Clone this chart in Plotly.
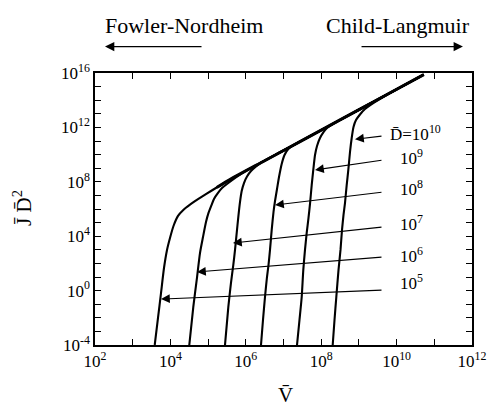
import plotly.graph_objects as go

# ---- data: log10(V) and log10(J D^2) ----
c1_logV = [3.584, 3.671, 3.751, 3.830, 3.910, 3.989, 4.082, 4.202, 4.342, 4.520, 4.732, 4.963, 5.228,
           5.6, 6.5, 7.5, 8.5, 9.5, 10.72]
c1_logY = [-4.00, -2.01, -0.18, 1.66, 2.99, 3.87, 4.75, 5.49, 5.93, 6.32, 6.72, 7.13, 7.58,
           8.2, 9.55, 11.05, 12.55, 14.05, 15.88]

c2_logV = [4.501, 4.607, 4.698, 4.785, 4.865, 4.944, 5.011, 5.090, 5.156, 5.263, 5.369, 5.501,
           6.0, 7.0, 8.0, 9.0, 10.0, 10.72]
c2_logY = [-4.00, -1.21, 0.78, 2.76, 3.94, 5.04, 5.71, 6.29, 6.74, 7.18, 7.54, 7.84,
           8.8, 10.3, 11.8, 13.3, 14.8, 15.88]

c3_logV = [5.448, 5.536, 5.607, 5.668, 5.714, 5.759, 5.801, 5.846, 5.891, 5.952, 6.032, 6.138, 6.271, 6.430,
           7.0, 8.0, 9.0, 10.0, 10.72]
c3_logY = [-4.00, -1.21, 0.56, 1.88, 2.99, 4.24, 5.41, 6.51, 7.32, 7.91, 8.39, 8.79, 9.13, 9.46,
           10.3, 11.8, 13.3, 14.8, 15.88]

c4_logV = [6.403, 6.456, 6.509, 6.562, 6.602, 6.642, 6.687, 6.735, 6.775, 6.828, 6.881, 6.952, 7.027, 7.127, 7.252,
           8.0, 9.0, 10.0, 10.72]
c4_logY = [-4.00, -2.16, -0.47, 1.00, 1.88, 2.99, 4.46, 5.78, 6.59, 7.47, 8.35, 9.31, 9.97, 10.41, 10.67,
           11.8, 13.3, 14.8, 15.88]

c5_logV = [7.358, 7.424, 7.483, 7.525, 7.570, 7.615, 7.663, 7.703, 7.748, 7.790, 7.836, 7.889, 7.968, 8.061, 8.154, 8.286,
           9.0, 10.0, 10.72]
c5_logY = [-4.00, -2.16, -0.47, 1.51, 2.99, 4.24, 5.34, 6.37, 7.76, 8.87, 9.97, 10.63, 11.22, 11.66, 11.96, 12.21,
           13.3, 14.8, 15.88]

c6_logV = [8.305, 8.353, 8.401, 8.459, 8.512, 8.552, 8.592, 8.631, 8.676, 8.719, 8.764, 8.809, 8.857, 8.923, 9.029,
           9.162, 9.321, 10.0, 10.72]
c6_logY = [-4.00, -2.16, -0.47, 1.51, 2.99, 4.46, 5.56, 6.44, 7.76, 8.87, 10.19, 11.22, 12.03, 12.54, 12.95,
           13.35, 13.68, 14.8, 15.88]

env_logV = [5.228, 5.6, 6.5, 7.5, 8.5, 9.5, 10.72]
env_logY = [7.58, 8.2, 9.55, 11.05, 12.55, 14.05, 15.88]

curves = [(c1_logV, c1_logY), (c2_logV, c2_logY), (c3_logV, c3_logY),
          (c4_logV, c4_logY), (c5_logV, c5_logY), (c6_logV, c6_logY)]

# labels: D value text, arrow tip (log V, log Y), arrow tail, label position
d_labels = ["D\u0304=10<sup>10</sup>", "10<sup>9</sup>", "10<sup>8</sup>",
            "10<sup>7</sup>", "10<sup>6</sup>", "10<sup>5</sup>"]
tip_logV = [8.897, 7.836, 6.775, 5.660, 4.706, 3.751]
tip_logY = [11.13, 8.87, 6.29, 3.50, 1.37, -0.62]
tail_logV = [9.639, 9.639, 9.639, 9.639, 9.639, 9.639]
tail_logY = [11.37, 9.60, 7.25, 4.68, 2.47, 0.04]
lab_logV = [9.77, 10.04, 10.04, 10.04, 10.04, 10.04]
lab_logY = [11.62, 9.80, 7.55, 5.00, 2.65, 0.62]

# regime labels above the plot: x in log V, y in paper fraction
regime_text = ["Fowler-Nordheim", "Child-Langmuir"]
regime_text_logV = [4.36, 10.05]
regime_text_yp = 1.176
regime_tip_logV = [2.265, 11.76]
regime_tail_logV = [4.865, 9.03]
regime_arrow_yp = 1.097

x_tickexp = list(range(2, 13))
y_tickexp = list(range(-4, 17))

SERIF = "Liberation Serif"

fig = go.Figure()
for lv, ly in curves:
    fig.add_trace(go.Scatter(x=[10 ** v for v in lv], y=[10 ** v for v in ly], mode="lines",
                             line=dict(color="black", width=2.1, shape="spline", smoothing=0.6),
                             showlegend=False, hoverinfo="skip"))
fig.add_trace(go.Scatter(x=[10 ** v for v in env_logV], y=[10 ** v for v in env_logY], mode="lines",
                         line=dict(color="black", width=3.0, shape="spline", smoothing=0.6),
                         showlegend=False, hoverinfo="skip"))

ann = []
for t, tx, ty, ax, ay, lx, lyy in zip(d_labels, tip_logV, tip_logY, tail_logV, tail_logY, lab_logV, lab_logY):
    ann.append(dict(x=tx, y=ty, ax=ax, ay=ay, xref="x", yref="y", axref="x", ayref="y",
                    text="", showarrow=True, arrowhead=2, arrowsize=1.6, arrowwidth=1.1,
                    arrowcolor="black"))
    ann.append(dict(x=lx, y=lyy, xref="x", yref="y", text=t, showarrow=False,
                    xanchor="left", yanchor="middle",
                    font=dict(family=SERIF, size=17, color="black")))

for t, tx, tip, tail in zip(regime_text, regime_text_logV, regime_tip_logV, regime_tail_logV):
    ann.append(dict(x=tx, y=regime_text_yp, xref="x", yref="paper", text=t, showarrow=False,
                    xanchor="center", yanchor="middle",
                    font=dict(family=SERIF, size=22, color="black")))
    ann.append(dict(x=tip, y=regime_arrow_yp, ax=tail, ay=0,
                    xref="x", yref="paper", axref="x", ayref="pixel", text="", showarrow=True,
                    xanchor="center", yanchor="middle",
                    arrowhead=2, arrowsize=1.7, arrowwidth=1.1, arrowcolor="black"))

ann += [
    dict(x=-0.191, y=0.504, xref="paper", yref="paper", text="J\u0304 D\u0304<sup>2</sup>",
         xanchor="center", yanchor="middle",
         textangle=-90, showarrow=False, font=dict(family=SERIF, size=21, color="black")),
    dict(x=0.504, y=-0.184, xref="paper", yref="paper", text="V\u0304",
         xanchor="center", yanchor="middle",
         showarrow=False, font=dict(family=SERIF, size=21, color="black")),
]

axis_common = dict(showline=True, linecolor="black", linewidth=1.5, mirror="ticks",
                   ticks="inside", ticklen=6, tickwidth=1.2, tickcolor="black",
                   showgrid=False, zeroline=False, automargin=False,
                   tickfont=dict(family=SERIF, size=17, color="black"))

fig.update_layout(
    width=490, height=409,
    margin=dict(l=95, r=18, t=73, b=64),
    paper_bgcolor="white", plot_bgcolor="white",
    xaxis=dict(type="log", range=[2, 12],
               tickvals=[10.0 ** e for e in x_tickexp],
               ticktext=[f"10<sup>{e}</sup>" if e % 2 == 0 else "" for e in x_tickexp],
               **axis_common),
    yaxis=dict(type="log", range=[-4, 16],
               tickvals=[10.0 ** e for e in y_tickexp],
               ticktext=[f"10<sup>{e}</sup>" if e % 4 == 0 else "" for e in y_tickexp],
               **axis_common),
    annotations=ann,
)

fig.write_html("out.html")
